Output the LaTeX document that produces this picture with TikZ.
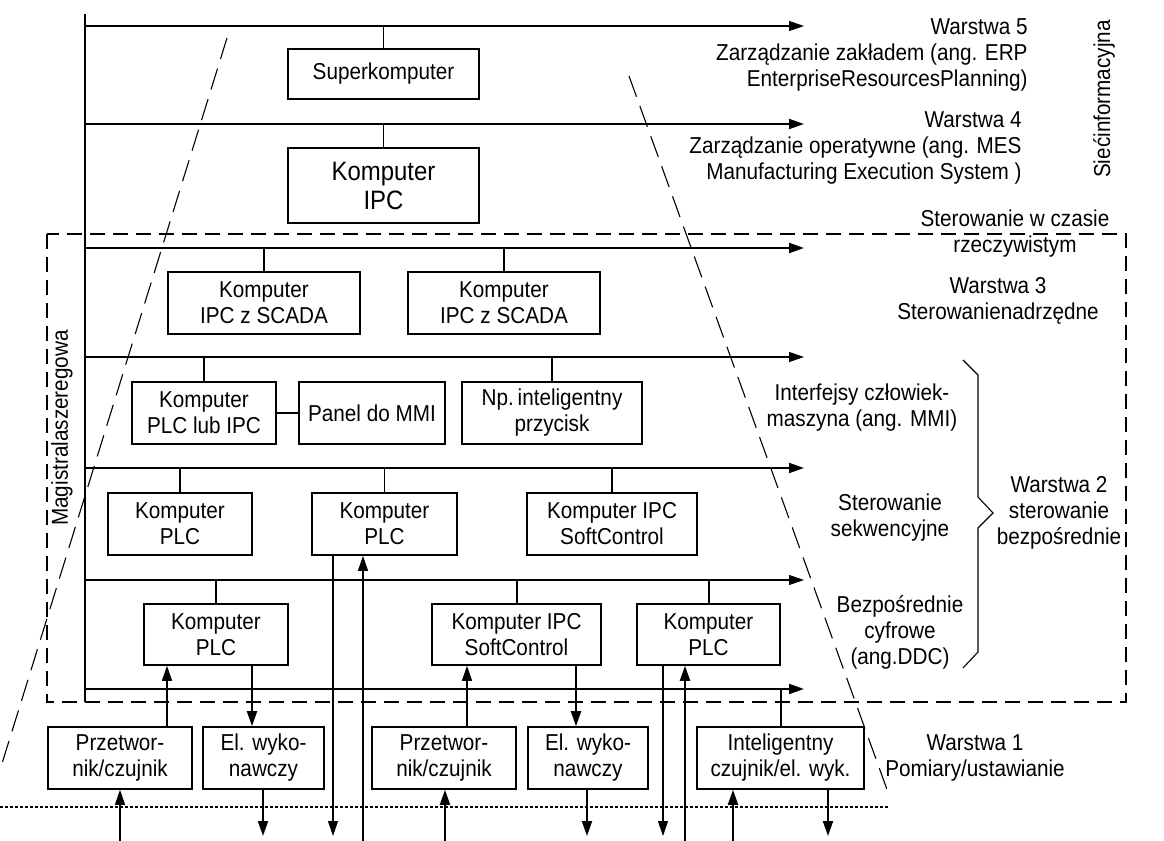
\documentclass[tikz,border=0pt]{standalone}
\usepackage{fontspec}
\setmainfont{Liberation Sans}[FakeStretch=0.9]
\usetikzlibrary{arrows.meta}

\begin{document}
\begin{tikzpicture}[x=0.5pt,y=-0.5pt,>={Triangle[length=7.5pt,width=5pt]},
    thin line/.style={line width=0.55pt},
    thick line/.style={line width=1pt},
    main node/.style={rectangle,draw,line width=0.8pt,align=center,
      font=\fontsize{11.5}{13}\selectfont,minimum height=31pt,inner sep=1pt},
    big node/.style={main node,font=\fontsize{13.3}{14.5}\selectfont},
    text node/.style={align=center,font=\fontsize{11.5}{13}\selectfont,inner sep=1pt},
    frame line/.style={line width=1.3pt,dash pattern=on 7.5pt off 4pt},
    slope line/.style={line width=0.55pt,dash pattern=on 11pt off 5pt},
    ground line/.style={line width=0.55pt,dash pattern=on 1.5pt off 1pt}]

  \useasboundingbox (0,0) rectangle (1164,841);

  %% frame of the real-time part and the pyramid
  \draw[frame line] (47,234) rectangle (1126,702);
  \draw[slope line] (227,38) -- (0,770);
  \draw[slope line] (629,76) -- (889,795);
  \draw[ground line] (0,807) -- (888,807);

  %% buses
  \foreach \n/\y in {1/26,2/124,3/248,4/357,5/468,6/580,7/689} {
    \coordinate (bus\n w) at (85,\y);
    \coordinate (bus\n e) at (804,\y);
  }
  \coordinate (top) at (85,14);
  \coordinate (foot) at (85,702);
  \coordinate (low) at (0,841);
  \coordinate (tip) at (0,836);
  \draw[thin line] (top) -- (foot);
  \foreach \n in {1,4,6} \draw[thin line,->] (bus\n w) -- (bus\n e);
  \foreach \n in {2,3,5,7} \draw[thick line,->] (bus\n w) -- (bus\n e);

  %% devices
  \node[main node,minimum width=95.5pt,minimum height=25pt] (super) at (383.5,74) {Superkomputer};
  \node[big node,minimum width=95.5pt,minimum height=37.5pt] (ipc) at (383.5,185.5) {Komputer\\IPC};
  \node[main node,minimum width=96pt] (scada1) at (264,303) {Komputer\\IPC z SCADA};
  \node[main node,minimum width=96pt] (scada2) at (504,303) {Komputer\\IPC z SCADA};
  \node[main node,minimum width=72pt] (plcipc) at (204,413) {Komputer\\PLC lub IPC};
  \node[main node,minimum width=73pt] (panel) at (372,413) {Panel do MMI};
  \node[main node,minimum width=90pt] (button) at (552,413) {Np.\,inteligentny\\przycisk};
  \node[main node,minimum width=72pt] (plc1) at (180,524) {Komputer\\PLC};
  \node[main node,minimum width=72.5pt] (plc2) at (384.5,524) {Komputer\\PLC};
  \node[main node,minimum width=85pt] (soft1) at (612,524) {Komputer IPC\\SoftControl};
  \node[main node,minimum width=72pt,minimum height=30.5pt] (plc3) at (216,634.5) {Komputer\\PLC};
  \node[main node,minimum width=84.5pt,minimum height=30.5pt] (soft2) at (516.5,634.5) {Komputer IPC\\SoftControl};
  \node[main node,minimum width=71.5pt,minimum height=30.5pt] (plc4) at (708.5,634.5) {Komputer\\PLC};
  \node[main node,minimum width=72pt] (prz1) at (120,758) {Przetwor-\\nik/czujnik};
  \node[main node,minimum width=60.5pt] (wyk1) at (263.5,758) {El. wyko-\\nawczy};
  \node[main node,minimum width=72pt] (prz2) at (444,758) {Przetwor-\\nik/czujnik};
  \node[main node,minimum width=60pt] (wyk2) at (588,758) {El. wyko-\\nawczy};
  \node[main node,minimum width=83.5pt] (intel) at (780.5,758) {Inteligentny\\czujnik/el. wyk.};

  %% taps on the buses
  \draw[thin line] (super.north) -- (super.north |- bus1w);
  \draw[thin line] (ipc.north) -- (ipc.north |- bus2w);
  \draw[thick line] (scada1.north) -- (scada1.north |- bus3w);
  \draw[thin line] (scada2.north) -- (scada2.north |- bus3w);
  \draw[thin line] (plcipc.north) -- (plcipc.north |- bus4w);
  \draw[thin line] (button.north) -- (button.north |- bus4w);
  \draw[thin line] (plcipc) -- (panel);
  \draw[thin line] (plc1.north) -- (plc1.north |- bus5w);
  \draw[thin line] (plc2.north) -- (plc2.north |- bus5w);
  \draw[thin line] (soft1.north) -- (soft1.north |- bus5w);
  \draw[thin line] (plc3.north) -- (plc3.north |- bus6w);
  \draw[thick line] (soft2.north) -- (soft2.north |- bus6w);
  \draw[thick line] (plc4.north) -- (plc4.north |- bus6w);
  \draw[thick line] (intel.north) -- (intel.north |- bus7w);

  %% signals to and from the process
  \foreach \k/\x in {s1/120,s2/167,s3/252,s4/263,s5/333,s6/363,s7/445,
      s8/467,s9/576,s10/587,s11/663,s12/685,s13/733,s14/828}
    \coordinate (\k) at (\x,0);
  \draw[thin line,->] (low -| s1) -- (prz1.south -| s1);
  \draw[thin line,->] (prz1.north -| s2) -- (plc3.south -| s2);
  \draw[thick line,->] (plc3.south -| s3) -- (wyk1.north -| s3);
  \draw[thick line,->] (wyk1.south -| s4) -- (tip -| s4);
  \draw[thin line,->] (plc2.south -| s5) -- (tip -| s5);
  \draw[thin line,->] (low -| s6) -- (plc2.south -| s6);
  \draw[thick line,->] (low -| s7) -- (prz2.south -| s7);
  \draw[thin line,->] (prz2.north -| s8) -- (soft2.south -| s8);
  \draw[thick line,->] (soft2.south -| s9) -- (wyk2.north -| s9);
  \draw[thick line,->] (wyk2.south -| s10) -- (tip -| s10);
  \draw[thin line,->] (plc4.south -| s11) -- (tip -| s11);
  \draw[thick line,->] (low -| s12) -- (plc4.south -| s12);
  \draw[thick line,->] (low -| s13) -- (intel.south -| s13);
  \draw[thick line,->] (intel.south -| s14) -- (tip -| s14);

  %% layer descriptions
  \node[text node,anchor=east,align=right] (w5) at (1030,55) {Warstwa 5\\Zarządzanie zakładem (ang. ERP\\EnterpriseResourcesPlanning)};
  \node[text node,anchor=east,align=right] (w4) at (1024,148) {Warstwa 4\\Zarządzanie operatywne (ang. MES\\Manufacturing Execution System )};
  \node[text node] (realtime) at (1015,234) {Sterowanie w czasie\\rzeczywistym};
  \node[text node] (w3) at (998,301) {Warstwa 3\\Sterowanienadrzędne};
  \node[text node] (mmi) at (862,408) {Interfejsy człowiek-\\maszyna (ang. MMI)};
  \node[text node] (seq) at (890,518) {Sterowanie\\sekwencyjne};
  \node[text node] (ddc) at (900,632) {Bezpośrednie\\cyfrowe\\(ang.DDC)};
  \node[text node] (w2) at (1059,513) {Warstwa 2\\sterowanie\\bezpośrednie};
  \node[text node] (w1) at (975,758) {Warstwa 1\\Pomiary/ustawianie};
  \node[text node,rotate=90] (net) at (1104,99) {Siećinformacyjna};
  \node[text node,rotate=90] (fieldbus) at (62,428) {Magistralaszeregowa};

  %% brace of layer 2
  \draw[thin line] (963,360) -- (978,375) -- (978,497) -- (993,513) -- (978,528) -- (978,652) -- (963,668);
\end{tikzpicture}
\end{document}
